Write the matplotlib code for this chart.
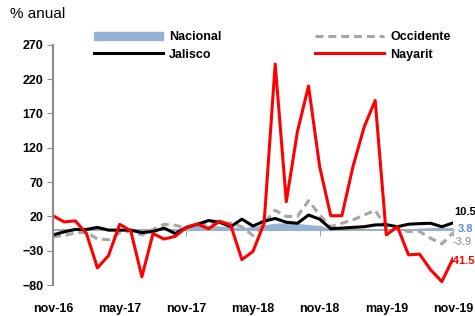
import numpy as np
import matplotlib.pyplot as plt
from matplotlib.patches import Patch
from matplotlib.lines import Line2D

plt.rcParams['font.family'] = ['Liberation Sans', 'DejaVu Sans']

# meses nov-16 ... nov-19
xlabels = ['nov-16', 'may-17', 'nov-17', 'may-18', 'nov-18', 'may-19', 'nov-19']

nacional = [1, 1, 1, 1, 1, 1, 1, 1, 1, 1, 1, 2, 5, 7, 7, 6, 5, 4, 5, 8,
            10, 11, 10, 8, 7, 2, 1, 1, 1, 2, 1, 0, 2, 3, 4, 4, 3.8]
jalisco = [-7, -2.5, 1, 1, 4, 0, 0, 0, -3.6, -2, 3, -5, 4, 8.6, 14, 11.5, 5, 16, 6, 13,
           17, 11.5, 10, 22, 16, 2, 3, 4, 5, 7.6, 8, 5, 8.6, 9.5, 10, 5, 10.5]
occidente = [-9.5, -8, -4, -3, -13, -14, -4, -1, -7, 1, 8.6, 7, 3, 6, 10, 11, 10, 5, -8, 10,
             29, 20, 20, 43, 22, 5, 10, 15, 22, 29, 3, 1, -2, -2, -12, -20, -3.9]
nayarit = [21, 12, 13.5, -4.5, -55, -37, 8.5, -1, -68, -5, -13, -9, 4, 9, 2, 13, 7, -43, -31, 10,
           242, 41.5, 143.6, 210, 92.6, 21, 21, 92.6, 150, 189, -7, 5, -36, -35, -58, -75, -41.5]

x = np.arange(len(nayarit))

fig = plt.figure(figsize=(4.75, 3.16), dpi=100)
ax = fig.add_axes([0.1116, 0.098, 0.842, 0.76])

ax.fill_between(x, 0, nacional, color='#95B3D7', lw=0)
ax.plot(x, occidente, color='#A6A6A6', lw=2.2, dashes=(2.6, 1.6))
ax.plot(x, jalisco, color='black', lw=2.2)
ax.plot(x, nayarit, color='#FF0000', lw=2.2)

ax.set_xlim(0, 36)
ax.set_ylim(-80, 270)
ax.set_yticks(np.arange(-80, 271, 50))
for lab in ax.get_yticklabels():
    lab.set_fontweight('bold')
ax.tick_params(axis='y', labelsize=9, length=4, color='#8C8C8C', pad=3)

for s in ['top', 'right']:
    ax.spines[s].set_visible(False)
ax.spines['left'].set_color('#8C8C8C')
ax.spines['left'].set_linewidth(1.5)
ax.spines['bottom'].set_position(('data', 0))
ax.spines['bottom'].set_color('#A6A6A6')
ax.spines['bottom'].set_linewidth(1.5)
ax.spines['bottom'].set_zorder(0.5)
ax.set_xticks([0, 12, 24, 36])
ax.tick_params(axis='x', length=4, color='#A6A6A6', labelbottom=False)

sec = ax.secondary_xaxis('bottom')
sec.set_xticks(np.arange(0, 37, 6), xlabels, fontweight='bold', fontsize=9)
sec.tick_params(length=0, pad=13)
sec.spines['bottom'].set_visible(False)

# etiquetas del último dato
ax.text(36.15, 26, '10.5', color='black', fontsize=8, fontweight='bold', va='center', clip_on=False)
ax.text(36.4, 2, '3.8', color='#558ED5', fontsize=8, fontweight='bold', va='center', clip_on=False)
ax.text(36.0, -17, '-3.9', color='#A6A6A6', fontsize=8, fontweight='bold', va='center', clip_on=False)
ax.text(35.72, -45, '-41.5', color='#FF0000', fontsize=8, fontweight='bold', va='center', clip_on=False)

handles = [Patch(color='#95B3D7'),
           Line2D([], [], color='black', lw=2.2),
           Line2D([], [], color='#A6A6A6', lw=2.2, dashes=(2.6, 1.6)),
           Line2D([], [], color='#FF0000', lw=2.2)]
labels = ['Nacional', 'Jalisco', 'Occidente', 'Nayarit']
leg = fig.legend(handles, labels, ncol=2, frameon=False, loc='upper left',
                 bbox_to_anchor=(94 / 475, 1 - 31 / 316), borderpad=0, borderaxespad=0,
                 handlelength=5.5, handleheight=0.6, handletextpad=0.5,
                 columnspacing=7.5, labelspacing=0.45,
                 prop={'weight': 'bold', 'size': 9})

fig.text(10 / 475, 1 - 14 / 316, '% anual', fontsize=11, va='center', ha='left')

plt.savefig('out.png', dpi=100)
